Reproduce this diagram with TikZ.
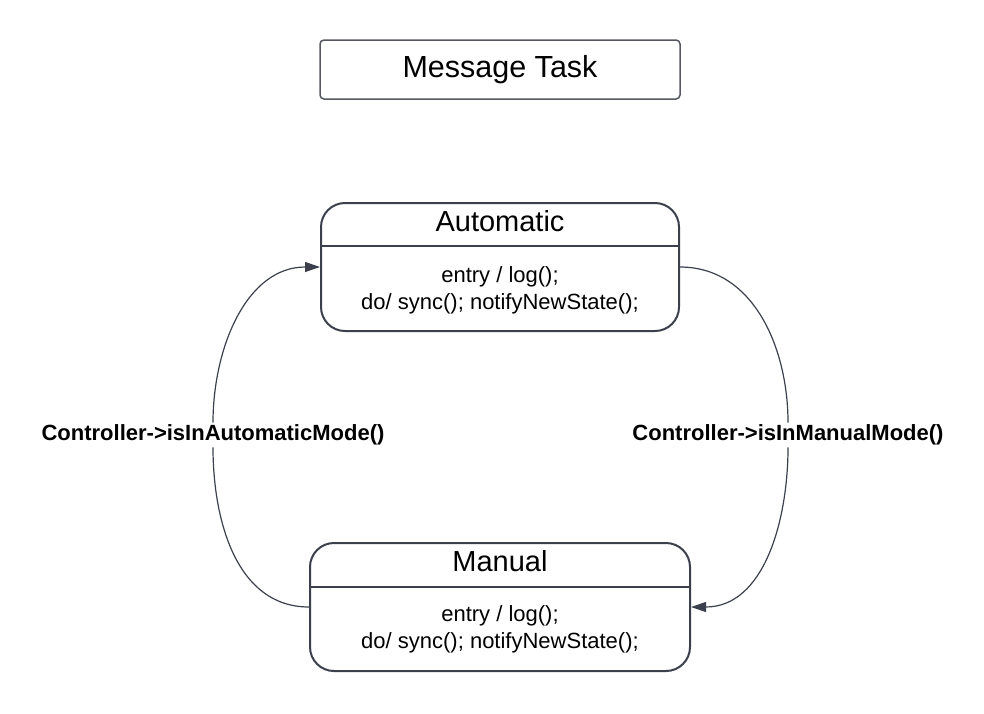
\documentclass[tikz,border=0pt]{standalone}
\usepackage{fontspec}
\setmainfont{Liberation Sans}
\usetikzlibrary{arrows.meta,positioning}
\definecolor{edge}{HTML}{3B404C}
\definecolor{frame}{HTML}{55595F}

\begin{document}
\begin{tikzpicture}[x=1pt,y=1pt,
 state/.style={draw=edge,line width=2pt,rounded corners=24pt,minimum height=128pt},
 head/.style={font=\fontsize{29}{34}\selectfont},
 body/.style={font=\fontsize{22}{27}\selectfont,align=center},
 guard/.style={fill=white,inner sep=2pt,font=\fontsize{22}{26}\selectfont\bfseries},
 arrow/.style={draw=edge,line width=1.2pt}]
\path[use as bounding box] (0,0) rectangle (984,-713);
% task title
\node[draw=frame,line width=1.5pt,rounded corners=4pt,minimum width=360pt,minimum height=59pt,
 font=\fontsize{30.5}{36}\selectfont] (task) at (500,-69.5) {Message Task};
% automatic state
\node[state,minimum width=358pt] (auto) at (500,-267) {};
\node[head] (autoname) at (500,-221) {Automatic};
\draw[edge,line width=2pt] (auto.west |- 0,-246) -- (auto.east |- 0,-246);
\node[body] (autobody) at (500,-290) {entry / log();\\do/ sync(); notifyNewState();};
% manual state
\node[state,minimum width=380pt] (man) at (500,-607) {};
\node[head] (manname) at (500,-561) {Manual};
\draw[edge,line width=2pt] (man.west |- 0,-587) -- (man.east |- 0,-587);
\node[body] (manbody) at (500,-629) {entry / log();\\do/ sync(); notifyNewState();};
% transitions
\node[guard] (toauto) at (213,-435) {Controller->isInAutomaticMode()};
\node[guard] (toman) at (788,-435) {Controller->isInManualMode()};
\draw[arrow] (man.west) to[out=180,in=-90] (toauto.south);
\draw[arrow,-{Triangle[length=15pt,width=10pt]}] (toauto.north) to[out=90,in=180] (auto.west);
\draw[arrow] (auto.east) to[out=0,in=90] (toman.north);
\draw[arrow,-{Triangle[length=15pt,width=10pt]}] (toman.south) to[out=-90,in=0] (man.east);
\end{tikzpicture}
\end{document}
